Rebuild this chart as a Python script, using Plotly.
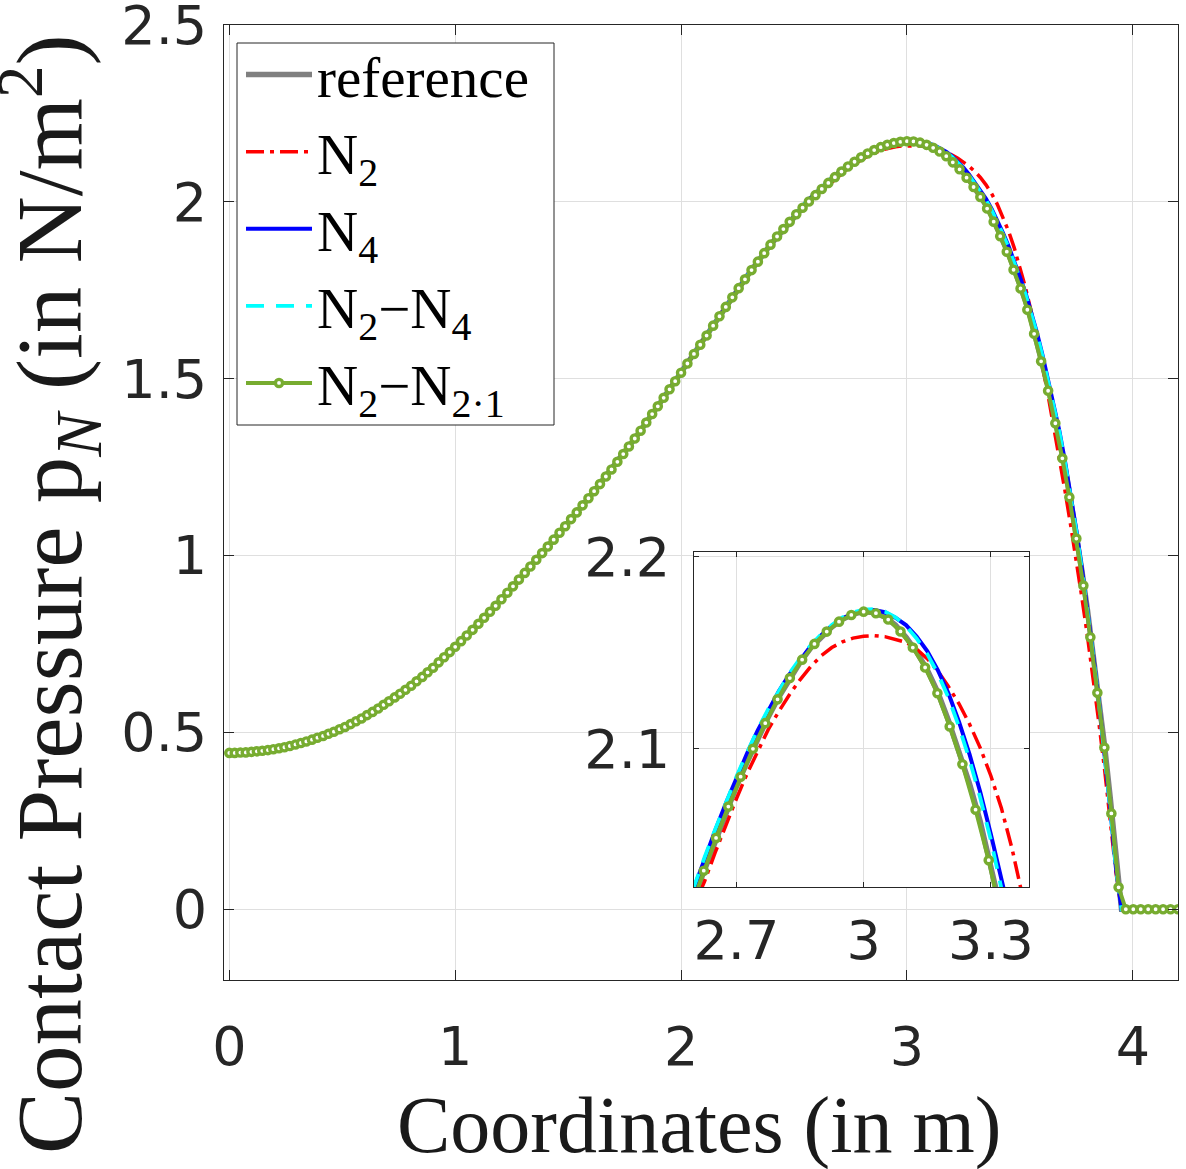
import plotly.graph_objects as go

# ---------------- data ----------------
# mesh nodes of the N2-N2.1 solution (markers)
x_mesh = [
    0.000, 0.024, 0.049, 0.073, 0.098, 0.122, 0.146, 0.171, 0.195, 0.220,
    0.244, 0.268, 0.293, 0.317, 0.341, 0.366, 0.390, 0.415, 0.439, 0.463,
    0.488, 0.512, 0.537, 0.561, 0.585, 0.610, 0.634, 0.659, 0.683, 0.707,
    0.732, 0.756, 0.780, 0.805, 0.829, 0.854, 0.878, 0.902, 0.927, 0.951,
    0.976, 1.000,
    1.026, 1.051, 1.077, 1.103, 1.128, 1.154, 1.179, 1.205, 1.231, 1.256,
    1.282, 1.308, 1.333, 1.359, 1.385, 1.410, 1.436, 1.462, 1.487, 1.513,
    1.538, 1.564, 1.590, 1.615, 1.641, 1.667, 1.692, 1.718, 1.744, 1.769,
    1.795, 1.821, 1.846, 1.872, 1.897, 1.923, 1.949, 1.974, 2.000,
    2.028, 2.057, 2.085, 2.113, 2.142, 2.170, 2.198, 2.227, 2.255, 2.283,
    2.312, 2.340, 2.368, 2.396, 2.425, 2.453, 2.481, 2.510, 2.538, 2.566,
    2.595, 2.623,
    2.652, 2.681, 2.710, 2.739, 2.768, 2.797, 2.826, 2.855, 2.884, 2.913,
    2.942, 2.971, 3.000, 3.029, 3.058, 3.087, 3.116, 3.145, 3.174, 3.203,
    3.233, 3.264, 3.295,
    3.325, 3.355, 3.384, 3.413, 3.442, 3.472, 3.503, 3.533, 3.563, 3.594,
    3.625, 3.657, 3.688, 3.719, 3.750, 3.781, 3.812, 3.843, 3.874, 3.905,
    3.937, 3.969, 4.002, 4.035, 4.068, 4.101, 4.134, 4.167, 4.200,
]
p_n2_n21 = [
    0.442, 0.442, 0.443, 0.4435, 0.445, 0.4465, 0.448, 0.450, 0.4525, 0.455,
    0.458, 0.4615, 0.466, 0.470, 0.4745, 0.4795, 0.485, 0.490, 0.496, 0.502,
    0.509, 0.5155, 0.5235, 0.5315, 0.5395, 0.549, 0.558, 0.5675, 0.578, 0.588,
    0.599, 0.6095, 0.6205, 0.632, 0.6445, 0.657, 0.670, 0.683, 0.698, 0.7125,
    0.727, 0.742,
    0.758, 0.774, 0.790, 0.807, 0.824, 0.841, 0.858, 0.8765, 0.895, 0.913,
    0.932, 0.951, 0.969, 0.988, 1.007, 1.0255, 1.045, 1.0645, 1.083, 1.103,
    1.122, 1.142, 1.162, 1.182, 1.202, 1.2235, 1.2435, 1.265, 1.287, 1.3085,
    1.331, 1.353, 1.376, 1.400, 1.422, 1.446, 1.470, 1.493, 1.517,
    1.543, 1.570, 1.596, 1.622, 1.650, 1.6765, 1.703, 1.730, 1.756, 1.781,
    1.807, 1.831, 1.855, 1.879, 1.902, 1.923, 1.9435, 1.965, 1.9835, 2.001,
    2.019, 2.0365,
    2.0536, 2.0699, 2.0855, 2.1000, 2.1134, 2.1258, 2.1369, 2.1465, 2.1547, 2.1611,
    2.1663, 2.1698, 2.1715, 2.1707, 2.1674, 2.1612, 2.1528, 2.1424, 2.1290, 2.1117,
    2.0920, 2.0683, 2.0420,
    2.014, 1.981, 1.944, 1.903, 1.859, 1.808, 1.755, 1.695, 1.627, 1.549,
    1.466, 1.374, 1.275, 1.165, 1.048, 0.915, 0.769, 0.612, 0.457, 0.271,
    0.062, 0.0, 0.0, 0.0, 0.0, 0.0, 0.0, 0.0, 0.0,
]

# line solutions: shared rising part, individual peak part, zero tail
x_left = [0.0, 0.1, 0.2, 0.3, 0.4, 0.5, 0.6, 0.7, 0.8, 0.9, 1.0, 1.1, 1.2,
          1.3, 1.4, 1.5, 1.6, 1.7, 1.8, 1.9, 2.0, 2.1, 2.2, 2.3, 2.4, 2.5]
p_left = [0.442, 0.445, 0.453, 0.467, 0.487, 0.512, 0.545, 0.585, 0.630,
          0.682, 0.742, 0.805, 0.873, 0.945, 1.018, 1.093, 1.170, 1.250,
          1.335, 1.425, 1.517, 1.610, 1.705, 1.797, 1.882, 1.958]
x_peak = [2.525, 2.550, 2.575, 2.600, 2.625, 2.650, 2.675, 2.700, 2.725, 2.750,
          2.775, 2.800, 2.825, 2.850, 2.875, 2.900, 2.925, 2.950, 2.975, 3.000,
          3.025, 3.050, 3.075, 3.100, 3.125, 3.150, 3.175, 3.200, 3.225, 3.250,
          3.275, 3.300, 3.325, 3.350, 3.375, 3.400, 3.425, 3.450, 3.475, 3.500,
          3.525, 3.550, 3.575, 3.600, 3.625, 3.650, 3.675, 3.700, 3.725, 3.750,
          3.775, 3.800, 3.825, 3.850, 3.875, 3.900, 3.925, 3.950, 3.975]
p_ref_peak = [1.975, 1.992, 2.0075, 2.0225, 2.0375, 2.0525, 2.0665, 2.0805, 2.0930, 2.1055,
              2.1165, 2.1270, 2.1365, 2.1450, 2.1525, 2.1585, 2.1635, 2.1675, 2.1702, 2.1715,
              2.1710, 2.1688, 2.1645, 2.1582, 2.1505, 2.1412, 2.1295, 2.1148, 2.0992, 2.0817,
              2.0622, 2.0405, 2.0175, 1.9910, 1.9605, 1.9270, 1.8905, 1.8530, 1.8095, 1.7680,
              1.7205, 1.6665, 1.6070, 1.5425, 1.4760, 1.4060, 1.3290, 1.2470, 1.1550, 1.0600,
              0.9550, 0.8420, 0.7200, 0.5950, 0.4620, 0.3150, 0.1500, 0.0, 0.0]
p_n2_peak = [1.975, 1.991, 2.005, 2.018, 2.031, 2.046, 2.0605, 2.074, 2.087, 2.099,
             2.110, 2.1195, 2.1282, 2.136, 2.1428, 2.1485, 2.1528, 2.1558, 2.1577, 2.1587,
             2.1590, 2.1585, 2.1572, 2.1555, 2.1520, 2.1470, 2.1405, 2.1325, 2.1235, 2.1128,
             2.1005, 2.0860, 2.0690, 2.0480, 2.0230, 1.9930, 1.9580, 1.9170, 1.8700, 1.8170,
             1.7570, 1.6900, 1.6160, 1.5370, 1.4520, 1.3650, 1.2750, 1.1820, 1.0850, 0.9850,
             0.8790, 0.7680, 0.6500, 0.5260, 0.3950, 0.2550, 0.1050, 0.0, 0.0]
p_n4_peak = [1.979, 1.9965, 2.0125, 2.028, 2.043, 2.0575, 2.0715, 2.085, 2.0975, 2.1095,
             2.1202, 2.1300, 2.1388, 2.1465, 2.1535, 2.1592, 2.1640, 2.1680, 2.1705, 2.1718,
             2.1723, 2.1712, 2.1684, 2.1645, 2.1585, 2.1510, 2.1410, 2.1290, 2.1140, 2.0970,
             2.0775, 2.0555, 2.0340, 2.0086, 1.9800, 1.9480, 1.9124, 1.8744, 1.8338, 1.7880,
             1.7428, 1.6900, 1.6316, 1.5670, 1.4980, 1.4280, 1.3520, 1.2655, 1.1710, 1.0710,
             0.9610, 0.8460, 0.7160, 0.5850, 0.4410, 0.2870, 0.1180, 0.0, 0.0]
p_n2n4_peak = [1.980, 1.997, 2.013, 2.0285, 2.0435, 2.058, 2.072, 2.0855, 2.098, 2.110,
               2.1207, 2.1305, 2.1393, 2.1470, 2.1540, 2.1597, 2.1645, 2.1685, 2.1711, 2.1725,
               2.1728, 2.1716, 2.1686, 2.1640, 2.1575, 2.1495, 2.1392, 2.1268, 2.1115, 2.0942,
               2.0745, 2.0525, 2.0290, 2.0050, 1.9765, 1.9440, 1.9085, 1.8705, 1.8300, 1.7845,
               1.7395, 1.6870, 1.6290, 1.5645, 1.4955, 1.4255, 1.3495, 1.2630, 1.1685, 1.0685,
               0.9585, 0.8435, 0.7135, 0.5825, 0.4390, 0.2850, 0.1160, 0.0, 0.0]
x_tail = [4.0, 4.1, 4.2]
p_tail = [0.0, 0.0, 0.0]

series_names = ["reference", "N<sub>2</sub>", "N<sub>4</sub>",
                "N<sub>2</sub>\u2212N<sub>4</sub>", "N<sub>2</sub>\u2212N<sub>2\u00b71</sub>"]

x_ticks_main = [0, 1, 2, 3, 4]
y_ticks_main = [0, 0.5, 1, 1.5, 2, 2.5]
y_ticktext_main = ["0", "0.5", "1", "1.5", "2", "2.5"]
x_ticks_inset = [2.7, 3.0, 3.3]
x_ticktext_inset = ["2.7", "3", "3.3"]
y_ticks_inset = [2.1, 2.2]

# ---------------- figure ----------------
GRAY, RED, BLUE, CYAN, GREEN = "#808080", "#FF0000", "#0000FF", "#00FFFF", "#77AC30"
x_line = x_left + x_peak + x_tail
line_series = [
    (series_names[0], p_left + p_ref_peak + p_tail, dict(color=GRAY, width=5.5)),
    (series_names[1], p_left + p_n2_peak + p_tail, dict(color=RED, width=3.5, dash="18px,6px,4px,6px")),
    (series_names[2], p_left + p_n4_peak + p_tail, dict(color=BLUE, width=4)),
    (series_names[3], p_left + p_n2n4_peak + p_tail, dict(color=CYAN, width=3.8, dash="18px,12px")),
]

fig = go.Figure()
for xa, ya, show in [("x", "y", True), ("x2", "y2", False)]:
    for name, yv, ln in line_series:
        fig.add_trace(go.Scatter(x=x_line, y=yv, mode="lines", name=name, line=ln,
                                 xaxis=xa, yaxis=ya, showlegend=show))
    fig.add_trace(go.Scatter(
        x=x_mesh, y=p_n2_n21, mode="lines+markers", name=series_names[4],
        line=dict(color=GREEN, width=4),
        marker=dict(symbol="circle", size=7.2, color="white",
                    line=dict(color=GREEN, width=3.4)),
        xaxis=xa, yaxis=ya, showlegend=show))

AX = "#262626"
GRID = "#dfdfdf"
tickfont = dict(family="DejaVu Sans, Liberation Sans, sans-serif", size=54, color=AX)
common = dict(showgrid=True, gridcolor=GRID, gridwidth=1, zeroline=False,
              showline=True, linecolor=AX, linewidth=1, mirror="ticks",
              ticks="inside", tickcolor=AX, tickfont=tickfont, automargin=False,
              ticklabeloverflow="allow")

W, H = 1186, 1169
fig.update_layout(
    width=W, height=H, margin=dict(l=0, r=0, t=0, b=0, autoexpand=False),
    paper_bgcolor="white", plot_bgcolor="white",
    xaxis=dict(domain=[224 / W, 1178 / W], range=[-0.0235, 4.2], anchor="y",
               tickvals=x_ticks_main, ticktext=[str(v) for v in x_ticks_main],
               ticklen=10, ticklabelstandoff=19, **common),
    yaxis=dict(domain=[1 - 980 / H, 1 - 25 / H], range=[-0.2, 2.5], anchor="x",
               tickvals=y_ticks_main, ticktext=y_ticktext_main,
               ticklen=10, ticklabelstandoff=5, **common),
    xaxis2=dict(domain=[694 / W, 1029 / W], range=[2.6, 3.39], anchor="y2",
                tickvals=x_ticks_inset, ticktext=x_ticktext_inset,
                ticklen=5, ticklabelstandoff=6, **common),
    yaxis2=dict(domain=[1 - 887 / H, 1 - 552 / H], range=[2.028, 2.2026], anchor="x2",
                tickvals=y_ticks_inset, ticktext=["2.1", "2.2"],
                ticklen=5, ticklabelstandoff=12, **common),
    legend=dict(x=241 / W, y=1 - 31 / H, xanchor="left", yanchor="top",
                bgcolor="rgba(0,0,0,0)", borderwidth=0,
                font=dict(family="Liberation Serif, serif", size=57, color="black"),
                itemwidth=66, tracegroupgap=0),
    showlegend=True,
    shapes=[
        # legend frame
        dict(type="rect", xref="paper", yref="paper",
             x0=237 / W, x1=554 / W, y0=1 - 425 / H, y1=1 - 43 / H,
             fillcolor="white", line=dict(color=AX, width=1), layer="above"),
    ],
    annotations=[
        dict(text="Coordinates (in m)", x=699 / W, y=1 - 1125 / H, xref="paper", yref="paper",
             xanchor="center", yanchor="middle", showarrow=False,
             font=dict(family="Liberation Serif, serif", size=80, color="#1a1a1a")),
        dict(text="Contact Pressure p<sub><i>N</i></sub> (in N/m<sup>2</sup>)",
             x=49 / W, y=1 - 595 / H, xref="paper", yref="paper", textangle=-90,
             xanchor="center", yanchor="middle", showarrow=False,
             font=dict(family="Liberation Serif, serif", size=93, color="#1a1a1a")),
    ],
)

fig.write_html("out.html")
